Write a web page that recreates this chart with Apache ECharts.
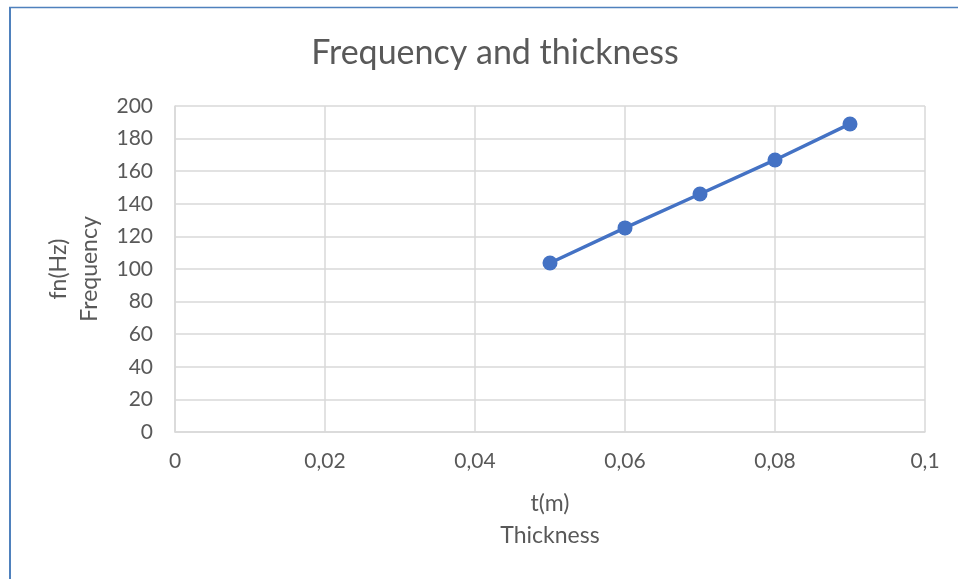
<!DOCTYPE html>
<html><head><meta charset="utf-8">
<script src="https://cdn.jsdelivr.net/npm/echarts@6/dist/echarts.min.js"></script>
<style>html,body{margin:0;padding:0;background:#fff}#c{width:958px;height:579px}</style>
</head><body><div id="c"></div>
<script>
const titleText = 'Frequency and thickness';
const xName = 't(m)\nThickness';
const yName = 'fn(Hz)\nFrequency';
const thickness = [0.05, 0.06, 0.07, 0.08, 0.09];
const frequency = [103.7, 125.2, 146, 166.9, 189];
const xTicks = {min: 0, max: 0.1, interval: 0.02};
const yTicks = {min: 0, max: 200, interval: 20};

const FONT = 'Lato';
const TXT = '#595959';
const chart = echarts.init(document.getElementById('c'), null, {renderer: 'canvas'});
chart.setOption({
  animation: false,
  backgroundColor: '#fff',
  title: {text: titleText, left: 490, top: 31, textAlign: 'center',
    textStyle: {fontFamily: FONT, fontSize: 34, fontWeight: 'normal', color: TXT}},
  grid: {left: 175, right: 33, top: 106, bottom: 147, containLabel: false},
  xAxis: {type: 'value', min: xTicks.min, max: xTicks.max, interval: xTicks.interval,
    name: xName, nameLocation: 'middle', nameGap: 56,
    nameTextStyle: {fontFamily: FONT, fontSize: 23, color: TXT, lineHeight: 32},
    axisLine: {show: true, lineStyle: {color: '#d9d9d9', width: 1.5}},
    axisTick: {show: false},
    axisLabel: {fontFamily: FONT, fontSize: 21, color: TXT, margin: 19,
      formatter: v => String(Math.round(v * 100) / 100).replace('.', ',')},
    splitLine: {show: true, lineStyle: {color: '#d9d9d9', width: 1.5}}},
  yAxis: {type: 'value', min: yTicks.min, max: yTicks.max, interval: yTicks.interval,
    name: yName, nameLocation: 'middle', nameGap: 67,
    nameTextStyle: {fontFamily: FONT, fontSize: 23, color: TXT, lineHeight: 31},
    axisLine: {show: true, lineStyle: {color: '#d9d9d9', width: 1.5}},
    axisTick: {show: false},
    axisLabel: {fontFamily: FONT, fontSize: 21, color: TXT, margin: 22},
    splitLine: {show: true, lineStyle: {color: '#d9d9d9', width: 1.5}}},
  series: [{type: 'line', data: thickness.map((t, i) => [t, frequency[i]]),
    symbol: 'circle', symbolSize: 15,
    lineStyle: {color: '#4472c4', width: 3.5},
    itemStyle: {color: '#4472c4'}}],
  graphic: [
    {type: 'line', shape: {x1: 10, y1: 7, x2: 10, y2: 579}, style: {stroke: '#4f81bd', lineWidth: 2}},
    {type: 'line', shape: {x1: 9, y1: 7.5, x2: 958, y2: 7.5}, style: {stroke: '#4f81bd', lineWidth: 1.3}}
  ]
});
</script></body></html>
